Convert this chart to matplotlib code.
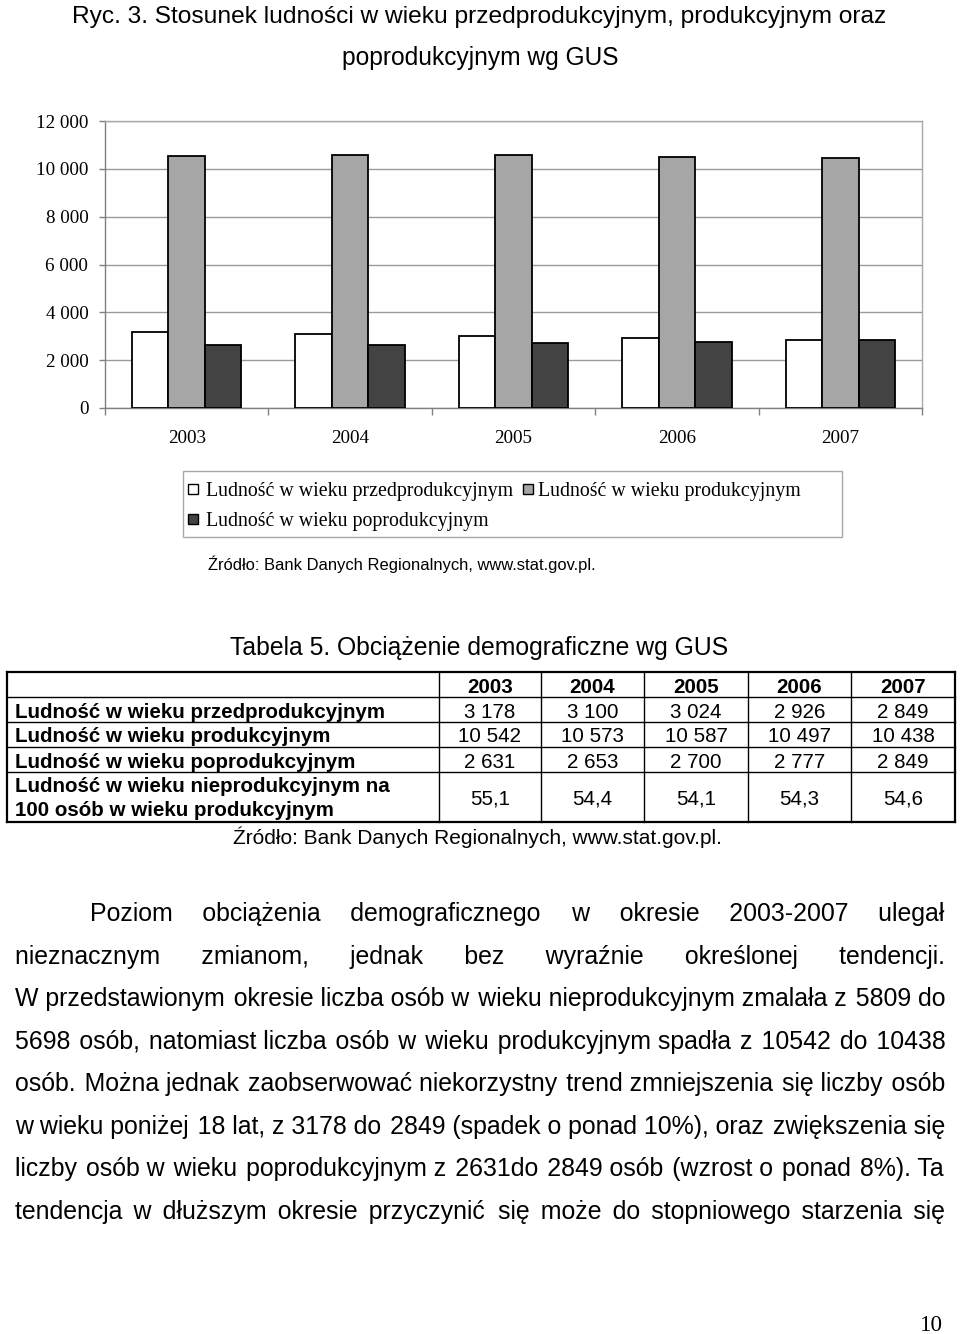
import matplotlib
matplotlib.use('Agg')
import matplotlib.pyplot as plt
import numpy as np
from matplotlib.patches import Rectangle
from matplotlib.lines import Line2D
from matplotlib.ticker import FixedLocator, FuncFormatter

# ---------------- data ----------------
years = [2003, 2004, 2005, 2006, 2007]
pre_prod = [3178, 3100, 3024, 2926, 2849]
prod = [10542, 10573, 10587, 10497, 10438]
post_prod = [2631, 2653, 2700, 2777, 2849]
ratio = [55.1, 54.4, 54.1, 54.3, 54.6]
series_names = ["Ludność w wieku przedprodukcyjnym",
                "Ludność w wieku produkcyjnym",
                "Ludność w wieku poprodukcyjnym"]
row4_label = ["Ludność w wieku nieprodukcyjnym na", "100 osób w wieku produkcyjnym"]
y_ticks = [0, 2000, 4000, 6000, 8000, 10000, 12000]

title_lines = ["Ryc. 3. Stosunek ludności w wieku przedprodukcyjnym, produkcyjnym oraz",
               "poprodukcyjnym wg GUS"]
source_text = "Źródło: Bank Danych Regionalnych, www.stat.gov.pl."
table_title = "Tabela 5. Obciążenie demograficzne wg GUS"
body_lines = [
    "Poziom obciążenia demograficznego w okresie 2003-2007 ulegał",
    "nieznacznym zmianom, jednak bez wyraźnie określonej tendencji.",
    "W przedstawionym okresie liczba osób w wieku nieprodukcyjnym zmalała z 5809 do",
    "5698 osób, natomiast liczba osób w wieku produkcyjnym spadła z 10542 do 10438",
    "osób. Można jednak zaobserwować niekorzystny trend zmniejszenia się liczby osób",
    "w wieku poniżej 18 lat, z 3178 do 2849 (spadek o ponad 10%), oraz zwiększenia się",
    "liczby osób w wieku poprodukcyjnym z 2631do 2849 osób (wzrost o ponad 8%). Ta",
    "tendencja w dłuższym okresie przyczynić się może do stopniowego starzenia się",
]
page_number = "10"

SANS = "Liberation Sans"
SERIF = "Liberation Serif"
SANS_LIST = [SANS, "DejaVu Sans"]

W, H = 960, 1334
fig = plt.figure(figsize=(9.6, 13.34), dpi=100)
fig.patch.set_facecolor('white')
renderer = fig.canvas.get_renderer()


def fx(x):
    return x / W


def fy(y):
    return 1 - y / H


def text_width(s, fs, family, weight='normal'):
    t = fig.text(0, 0, s, fontsize=fs, family=family, weight=weight)
    w = t.get_window_extent(renderer).width
    t.remove()
    return w


def fit_size(s, width, family, weight='normal', base=12.0):
    return base * width / text_width(s, base, family, weight)


def place(s, x, y, fs, family, weight='normal', ha='left', va='center_baseline'):
    return fig.text(fx(x), fy(y), s, fontsize=fs, family=family, weight=weight,
                    ha=ha, va=va)


def fit_place(s, x0, x1, y, family, weight='normal', scale=1.0):
    fs = fit_size(s, x1 - x0, family, weight) * scale
    return place(s, (x0 + x1) / 2, y, fs, family, weight, ha='center')


def thousands(v):
    return f"{int(v):,}".replace(",", " ")


# ---------------- title ----------------
fit_place(title_lines[0], 71, 887, 15, SANS)
fit_place(title_lines[1], 341, 619, 56, SANS)

# ---------------- chart ----------------
ax_l, ax_r, ax_t, ax_b = 105, 922, 121, 408
ax = fig.add_axes([fx(ax_l), fy(ax_b), (ax_r - ax_l) / W, (ax_b - ax_t) / H])
x = np.arange(len(years))
bw = 0.223
colors = ['#ffffff', '#a6a6a6', '#434343']
for i, vals in enumerate([pre_prod, prod, post_prod]):
    ax.bar(x + (i - 1) * bw, vals, width=bw, color=colors[i], edgecolor='black',
           linewidth=1.3, zorder=3, label=series_names[i])
ax.set_xlim(-0.5, len(years) - 0.5)
ax.set_ylim(0, 12000)
ax.set_yticks(y_ticks)
ax.yaxis.set_major_formatter(FuncFormatter(lambda v, p: thousands(v)))
ax.yaxis.grid(True, color='#9a9a9a', linewidth=1.0, zorder=0)
ax.set_axisbelow(True)
ax.xaxis.set_major_locator(FixedLocator(list(x)))
ax.set_xticklabels([str(y) for y in years])
ax.xaxis.set_minor_locator(FixedLocator(list(np.arange(-0.5, len(years), 1.0))))
tick_fs = fit_size("12 000", 48, SERIF) * 1.08
year_fs = fit_size("2003", 35, SERIF) * 1.08
ax.tick_params(axis='y', direction='out', length=4, width=1, color='#808080',
               labelsize=tick_fs, pad=8)
ax.tick_params(axis='x', which='major', length=0, labelsize=year_fs, pad=16)
ax.tick_params(axis='x', which='minor', direction='out', length=5, width=1, color='#808080')
for lab in ax.get_yticklabels() + ax.get_xticklabels():
    lab.set_family(SERIF)
for side in ['left', 'bottom']:
    ax.spines[side].set_color('#808080')
for side in ['top', 'right']:
    ax.spines[side].set_color('#a8a8a8')
for s in ax.spines.values():
    s.set_linewidth(1.0)

# ---------------- legend (Excel-style box) ----------------
fig.patches.append(Rectangle((fx(183), fy(537)), (842 - 183) / W, (537 - 471) / H,
                             transform=fig.transFigure, facecolor='white',
                             edgecolor='#a8a8a8', linewidth=1.0))
leg_fs = fit_size(series_names[0], 307, SERIF)
leg_items = [(188, 489, 206, 0), (523, 489, 538, 1), (188, 519, 206, 2)]
for mx, my, tx, idx in leg_items:
    fig.patches.append(Rectangle((fx(mx), fy(my + 5)), 10 / W, 10 / H,
                                 transform=fig.transFigure, facecolor=colors[idx],
                                 edgecolor='black', linewidth=1.0))
    place(series_names[idx], tx, my, leg_fs, SERIF)

# ---------------- source ----------------
fit_place(source_text, 209, 595, 563, SANS)

# ---------------- table ----------------
fit_place(table_title, 229, 729, 645, SANS)
col_edges = [7, 439, 541, 644, 748, 851, 955]
row_edges = [672, 697, 722, 747, 772, 822]
for i, xe in enumerate(col_edges):
    lw = 1.6 if i in (0, len(col_edges) - 1) else 1.0
    fig.add_artist(Line2D([fx(xe), fx(xe)], [fy(row_edges[0]), fy(row_edges[-1])],
                          color='black', linewidth=lw, transform=fig.transFigure))
for i, ye in enumerate(row_edges):
    lw = 1.6 if i in (0, len(row_edges) - 1) else 1.0
    fig.add_artist(Line2D([fx(col_edges[0]), fx(col_edges[-1])], [fy(ye), fy(ye)],
                          color='black', linewidth=lw, transform=fig.transFigure))
tab_fs = fit_size(series_names[0], 368, SANS, 'bold')
centers = [(col_edges[i] + col_edges[i + 1]) / 2 for i in range(1, len(col_edges) - 1)]
for c, yv in zip(centers, years):
    place(str(yv), c, 686, tab_fs, SANS, 'bold', ha='center')
row_ys = [711, 735, 760]
for name, vals, ry in zip(series_names, [pre_prod, prod, post_prod], row_ys):
    place(name, 15, ry, tab_fs, SANS, 'bold')
    for c, v in zip(centers, vals):
        place(thousands(v), c, ry, tab_fs, SANS, ha='center')
place(row4_label[0], 15, 785, tab_fs, SANS, 'bold')
place(row4_label[1], 15, 808, tab_fs, SANS, 'bold')
for c, v in zip(centers, ratio):
    place(f"{v:.1f}".replace(".", ","), c, 797, tab_fs, SANS, ha='center')
fit_place(source_text, 232, 722, 835, SANS)

# ---------------- body text (justified with space runs) ----------------
body_fs = fit_size(body_lines[2], 928, SANS_LIST)
ref_w = text_width("aa", body_fs, SANS_LIST)
space_w = (text_width("a" + " " * 20 + "a", body_fs, SANS_LIST) - ref_w) / 20
hair = "\u200a"
hair_w = (text_width("a" + hair * 20 + "a", body_fs, SANS_LIST) - ref_w) / 20
line_centers = [914, 957, 999, 1042, 1084, 1127, 1169, 1212]
for k, (line, yc) in enumerate(zip(body_lines, line_centers)):
    x0 = 90 if k == 0 else 15
    x1 = 945
    words = line.split()
    widths = [text_width(w, body_fs, SANS_LIST) for w in words]
    n_gaps = max(len(words) - 1, 1)
    gap = (x1 - x0 - sum(widths)) / n_gaps
    s = words[0]
    pos = x0 + widths[0]
    for i in range(1, len(words)):
        target = x0 + sum(widths[:i]) + i * gap
        need = target - pos
        n_sp = max(1, int(need // space_w))
        rem = need - n_sp * space_w
        n_h = int(round(rem / hair_w)) if hair_w > 0.5 and rem > 0 else 0
        s += " " * n_sp + hair * n_h + words[i]
        pos += n_sp * space_w + n_h * hair_w + widths[i]
    fig.text(fx(x0), fy(yc + 7), s, fontsize=body_fs, family=SANS_LIST, va='baseline')

# ---------------- page number ----------------
fit_place(page_number, 920, 943, 1323, SERIF)

fig.savefig('out.png', dpi=100, facecolor='white')
